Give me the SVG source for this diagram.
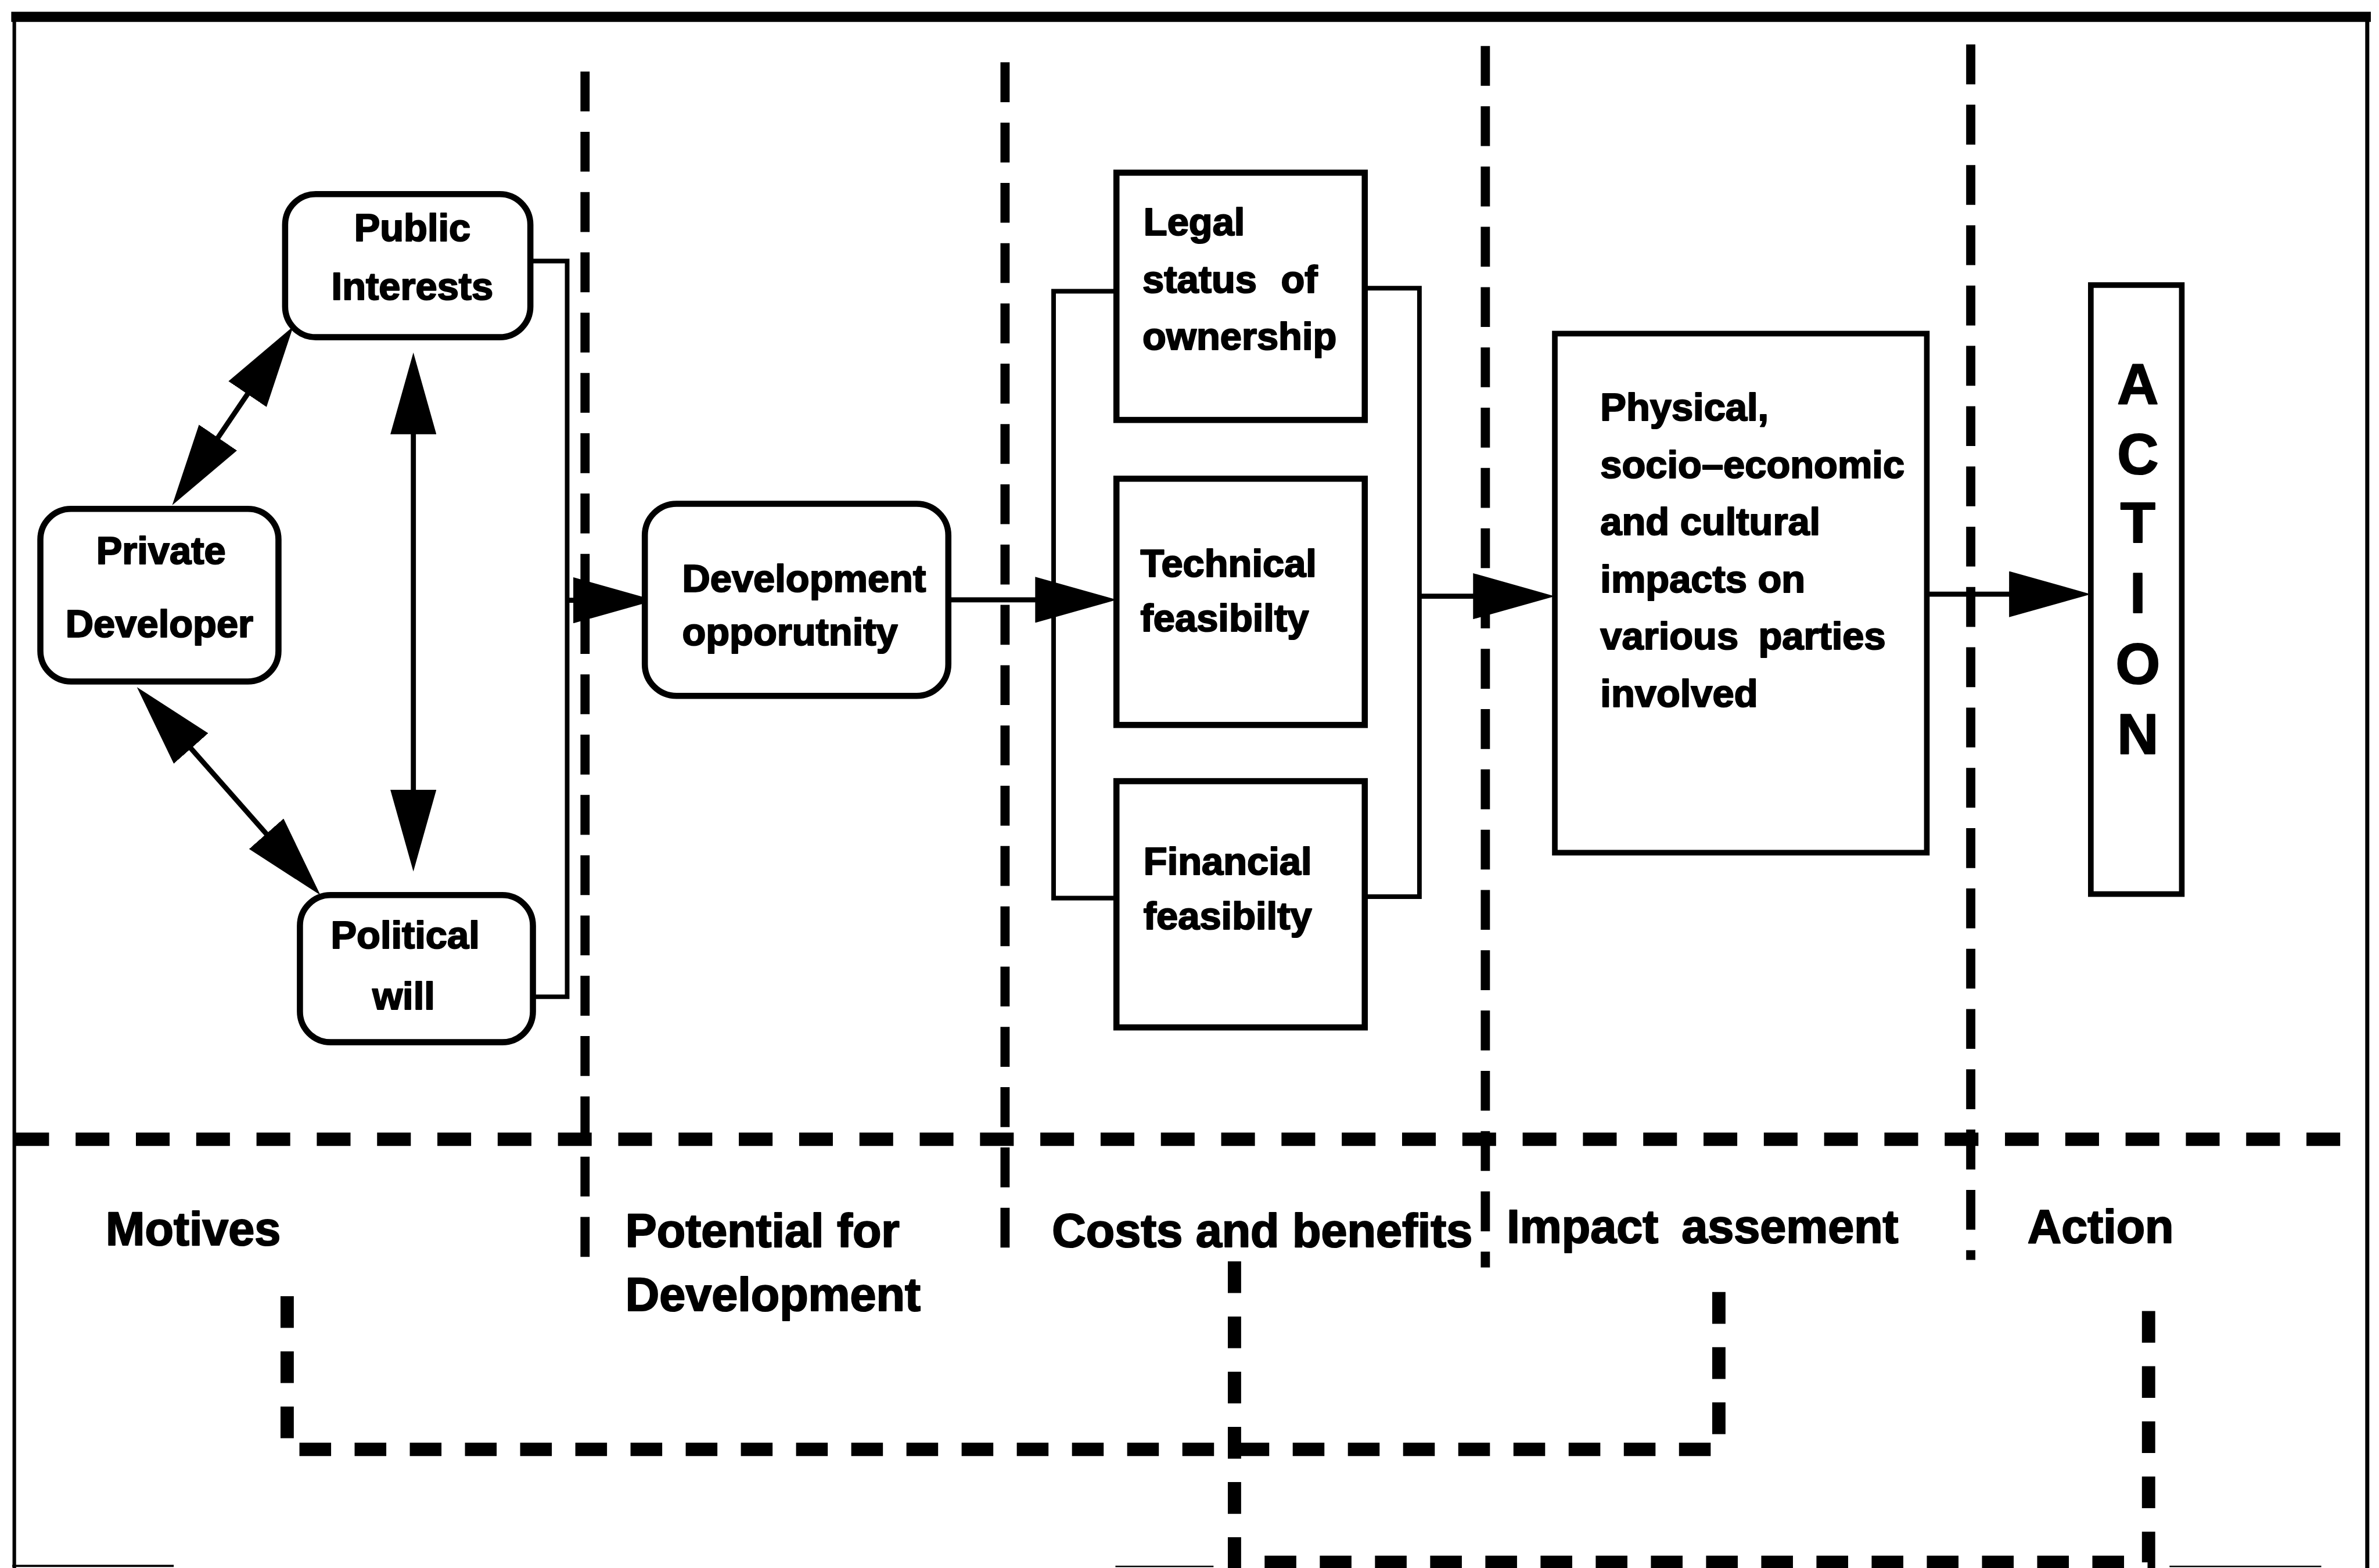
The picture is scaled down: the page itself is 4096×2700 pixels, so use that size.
<svg xmlns="http://www.w3.org/2000/svg" width="4096" height="2700" viewBox="0 0 4096 2700">
  <style>
    .t { font-family: "Liberation Sans", Arial, Helvetica, sans-serif; font-weight: bold; fill: #000; stroke: #000; stroke-width: 2.5; stroke-linejoin: round; }
    .node { font-size: 76px; }
    .lab { font-size: 92px; }
    .act { font-size: 112px; text-anchor: middle; }
    .mid { text-anchor: middle; }
    .rbox { fill: #fff; stroke: #000; stroke-width: 12; }
    .sbox { fill: #fff; stroke: #000; stroke-width: 11; }
    .wire { fill: none; stroke: #000; stroke-width: 9; }
    .arrow { fill: none; stroke: #000; stroke-width: 10; }
    .dbl { marker-start: url(#ah); marker-end: url(#ah); }
    .one { marker-end: url(#ah); }
    .vdiv { fill: none; stroke: #000; stroke-width: 18; stroke-dasharray: 78 40; }
    .hdiv { fill: none; stroke: #000; stroke-width: 26; stroke-dasharray: 66 52; }
    .link { fill: none; stroke: #000; stroke-width: 26; stroke-dasharray: 62 46; }
    .frame { stroke: #000; fill: none; }
  </style>
  <defs>
    <marker id="ah" viewBox="0 0 160 90" refX="140" refY="45" markerWidth="160" markerHeight="90" markerUnits="userSpaceOnUse" orient="auto-start-reverse">
      <path d="M0,0 L160,45 L0,90 Z" fill="#000"/>
    </marker>
  </defs>
  <rect x="0" y="0" width="4096" height="2700" fill="#fff"/>
  <g transform="scale(0.87973)">
    <!-- outer frame -->
    <g id="frame">
      <line class="frame" x1="22" y1="33" x2="4640" y2="33" stroke-width="20"/>
      <line class="frame" x1="28" y1="24" x2="28" y2="3069" stroke-width="7"/>
      <line class="frame" x1="4633" y1="24" x2="4633" y2="3069" stroke-width="8"/>
      <line class="frame" x1="24" y1="3065" x2="340" y2="3065" stroke-width="4"/>
      <line class="frame" x1="2183" y1="3066" x2="2375" y2="3066" stroke-width="3"/>
      <line class="frame" x1="4246" y1="3066" x2="4543" y2="3066" stroke-width="3"/>
    </g>

    <!-- column and row dividers -->
    <g id="dividers">
      <line class="vdiv" x1="1145" y1="140" x2="1145" y2="2482"/>
      <line class="vdiv" x1="1967" y1="122" x2="1967" y2="2464"/>
      <line class="vdiv" x1="2907" y1="90" x2="2907" y2="2481"/>
      <line class="vdiv" x1="3857" y1="87" x2="3857" y2="2466"/>
      <line class="hdiv" x1="30" y1="2230" x2="4633" y2="2230"/>
      <path class="link" d="M562,2537 V2837 H3364 V2528"/>
      <path class="link" d="M2416,2469 V3058 H4205 V2522"/>
    </g>

    <!-- connectors -->
    <g id="connectors">
      <path class="wire" d="M1040,511 H1110 V1951 H1044"/>
      <path class="wire" d="M2185,570 H2062 V1758 H2185"/>
      <path class="wire" d="M2671,564 H2778 V1755 H2671"/>
      <path class="arrow dbl" d="M348.2,972.5 L562.8,655.5"/>
      <path class="arrow dbl" d="M809,710 V1686"/>
      <path class="arrow dbl" d="M281.2,1360 L613.8,1737"/>
      <path class="arrow one" d="M1110,1175 H1262"/>
      <path class="arrow one" d="M1857,1174 H2166"/>
      <path class="arrow one" d="M2778,1167 H3023"/>
      <path class="arrow one" d="M3740,1163 H4072"/>
    </g>

    <!-- motives -->
    <g id="public-interests">
      <rect class="rbox" x="558" y="380" width="480" height="280" rx="60"/>
      <text class="t node mid" x="807" y="472">Public</text>
      <text class="t node mid" x="807" y="587">Interests</text>
    </g>
    <g id="private-developer">
      <rect class="rbox" x="79" y="996" width="466" height="338" rx="60"/>
      <text class="t node mid" x="315" y="1104">Private</text>
      <text class="t node mid" x="312" y="1247">Developer</text>
    </g>
    <g id="political-will">
      <rect class="rbox" x="587" y="1752" width="456" height="288" rx="60"/>
      <text class="t node mid" x="793" y="1856">Political</text>
      <text class="t node mid" x="790" y="1976">will</text>
    </g>

    <!-- potential for development -->
    <g id="development-opportunity">
      <rect class="rbox" x="1262" y="986" width="594" height="376" rx="62"/>
      <text class="t node" x="1335" y="1158">Development</text>
      <text class="t node" x="1335" y="1263">opporutnity</text>
    </g>

    <!-- costs and benefits -->
    <g id="legal-status">
      <rect class="rbox" x="2185" y="338" width="486" height="484"/>
      <text class="t node" x="2238" y="460">Legal</text>
      <text class="t node" x="2236" y="573" word-spacing="26">status of</text>
      <text class="t node" x="2236" y="684">ownership</text>
    </g>
    <g id="technical-feasibility">
      <rect class="rbox" x="2185" y="937" width="486" height="482"/>
      <text class="t node" x="2232" y="1129">Technical</text>
      <text class="t node" x="2232" y="1236">feasibilty</text>
    </g>
    <g id="financial-feasibility">
      <rect class="rbox" x="2185" y="1529" width="486" height="482"/>
      <text class="t node" x="2238" y="1712">Financial</text>
      <text class="t node" x="2238" y="1819">feasibilty</text>
    </g>

    <!-- impact assessment -->
    <g id="impacts">
      <rect class="sbox" x="3043" y="653" width="728" height="1016"/>
      <text class="t node" x="3132" y="823">Physical,</text>
      <text class="t node" x="3132" y="935">socio–economic</text>
      <text class="t node" x="3132" y="1047">and cultural</text>
      <text class="t node" x="3132" y="1159">impacts on</text>
      <text class="t node" x="3132" y="1271" word-spacing="18">various parties</text>
      <text class="t node" x="3132" y="1383">involved</text>
    </g>

    <!-- action -->
    <g id="action">
      <rect class="sbox" x="4092" y="558" width="178" height="1192"/>
      <text class="t act" x="4184" y="790">A</text>
      <text class="t act" x="4184" y="927">C</text>
      <text class="t act" x="4184" y="1062">T</text>
      <text class="t act" x="4184" y="1199">I</text>
      <text class="t act" x="4184" y="1338">O</text>
      <text class="t act" x="4184" y="1475">N</text>
    </g>

    <!-- stage labels -->
    <g id="stage-labels">
      <text class="t lab" x="207" y="2437">Motives</text>
      <text class="t lab" x="1224" y="2440">Potential for</text>
      <text class="t lab" x="1224" y="2565">Development</text>
      <text class="t lab" x="2059" y="2440">Costs and benefits</text>
      <text class="t lab" x="2949" y="2432" word-spacing="20">Impact assement</text>
      <text class="t lab" x="3968" y="2432">Action</text>
    </g>
  </g>
</svg>
